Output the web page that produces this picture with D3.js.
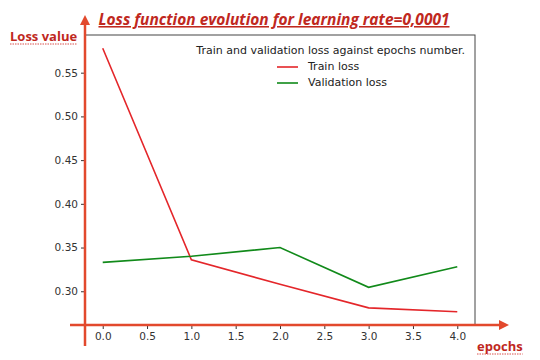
<!DOCTYPE html>
<html><head><meta charset="utf-8">
<script src="https://cdn.jsdelivr.net/npm/d3@7"></script>
<style>body{margin:0;background:#fff}</style>
</head><body>
<svg id="c" width="540" height="360"></svg>
<script>
const epochs = [0, 1, 2, 3, 4];
const trainLoss = [0.578, 0.336, 0.308, 0.281, 0.2765];
const valLoss = [0.333, 0.340, 0.350, 0.3045, 0.328];
const xTicks = [0, 0.5, 1, 1.5, 2, 2.5, 3, 3.5, 4];
const yTicks = [0.30, 0.35, 0.40, 0.45, 0.50, 0.55];
const seriesNames = ["Train loss", "Validation loss"];
const titleText = "Loss function evolution for learning rate=0,0001";
const legendTitle = "Train and validation loss against epochs number.";

const svg = d3.select("#c");
const L = 85, R = 475, T = 35, B = 325;
const x = d3.scaleLinear().domain([-0.2, 4.2]).range([L, R]);
const y = d3.scaleLinear().domain([0.2614, 0.5931]).range([B, T]);
const red = "#e4262a", green = "#118a1a", axisRed = "#e2492d", textRed = "#c0281e";

// plot frame
svg.append("rect").attr("x", L).attr("y", T).attr("width", R - L).attr("height", B - T)
  .attr("fill", "none").attr("stroke", "#444").attr("stroke-width", 1);

const tickFont = "'DejaVu Sans', sans-serif";
const xa = svg.append("g").attr("transform", `translate(0,${B})`)
  .call(d3.axisBottom(x).tickValues(xTicks).tickFormat(d3.format(".1f")).tickSize(4).tickPadding(4));
const ya = svg.append("g").attr("transform", `translate(${L},0)`)
  .call(d3.axisLeft(y).tickValues(yTicks).tickFormat(d3.format(".2f")).tickSize(4).tickPadding(3));
[xa, ya].forEach(a => {
  a.select(".domain").remove();
  a.selectAll("text").attr("font-family", tickFont).attr("font-size", 10.5).attr("fill", "#333");
  a.selectAll("line").attr("stroke", "#333");
});

const line = d3.line().x((d, i) => x(epochs[i])).y(d => y(d));
svg.append("path").datum(trainLoss).attr("d", line).attr("fill", "none").attr("stroke", red).attr("stroke-width", 1.6);
svg.append("path").datum(valLoss).attr("d", line).attr("fill", "none").attr("stroke", green).attr("stroke-width", 1.6);

// legend
const lg = svg.append("g").attr("font-family", tickFont).attr("font-size", 11).attr("fill", "#222");
lg.append("text").attr("x", 465).attr("y", 51).attr("text-anchor", "end").attr("dominant-baseline", "middle").text(legendTitle);
[red, green].forEach((c, i) => {
  const yy = 67 + i * 16;
  lg.append("line").attr("x1", 277).attr("x2", 298).attr("y1", yy).attr("y2", yy).attr("stroke", c).attr("stroke-width", 1.6);
  lg.append("text").attr("x", 308).attr("y", yy).attr("dominant-baseline", "middle").text(seriesNames[i]);
});

// red arrows
const defs = svg.append("defs");
defs.append("marker").attr("id", "ah").attr("viewBox", "0 0 10 10").attr("refX", 5).attr("refY", 5)
  .attr("markerWidth", 4).attr("markerHeight", 4).attr("orient", "auto")
  .append("path").attr("d", "M0,0 L10,5 L0,10 z").attr("fill", axisRed);
svg.append("line").attr("x1", 85).attr("y1", 346).attr("x2", 85).attr("y2", 20)
  .attr("stroke", axisRed).attr("stroke-width", 2.5).attr("marker-end", "url(#ah)");
svg.append("line").attr("x1", 70).attr("y1", 325).attr("x2", 504).attr("y2", 325)
  .attr("stroke", axisRed).attr("stroke-width", 2.5).attr("marker-end", "url(#ah)");

// texts
const tf = "'Open Sans', 'Noto Sans', sans-serif";
svg.append("text").attr("x", 274).attr("y", 25).attr("text-anchor", "middle")
  .attr("font-family", tf).attr("font-size", 15.5).attr("font-weight", "bold").attr("font-style", "italic")
  .attr("fill", textRed).attr("text-decoration", "underline").text(titleText);
const lv = svg.append("text").attr("x", 10).attr("y", 41)
  .attr("font-family", tf).attr("font-size", 13).attr("font-weight", "bold").attr("fill", textRed).text("Loss value");
const ep = svg.append("text").attr("x", 477).attr("y", 351)
  .attr("font-family", tf).attr("font-size", 13).attr("font-weight", "bold").attr("fill", textRed).text("epochs");
[lv, ep].forEach(t => {
  const b = t.node().getBBox();
  svg.append("line").attr("x1", b.x).attr("x2", b.x + b.width).attr("y1", b.y + b.height - 1).attr("y2", b.y + b.height - 1)
    .attr("stroke", "#d9534f").attr("stroke-width", 1).attr("stroke-dasharray", "1.5,1");
});
</script>
</body></html>
